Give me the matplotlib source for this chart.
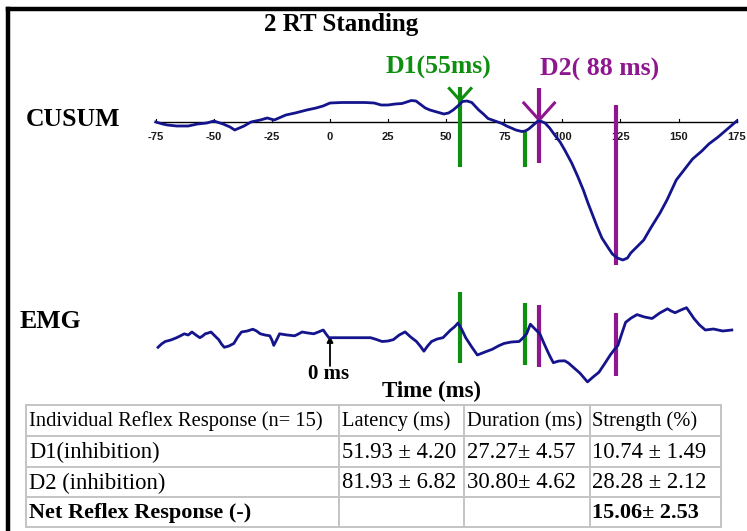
import matplotlib
matplotlib.use("Agg")
import matplotlib.pyplot as plt
from matplotlib.lines import Line2D
from matplotlib.patches import Rectangle

# ---------------- data ----------------
title = "2 RT Standing"

tick_values = [-75, -50, -25, 0, 25, 50, 75, 100, 125, 150, 175]

# CUSUM trace (time in ms, cumulative sum in arbitrary units)
cusum_ms = [-75, -72, -70, -66, -61, -57, -53, -50, -46, -43, -41, -37, -34,
            -30, -27, -24, -21, -19, -15, -10, -6, -3, 0, 5, 10, 15, 19, 22,
            25, 28, 31, 33, 35, 37, 39, 41, 43, 46, 49, 51, 53, 55, 57, 59,
            61, 64, 66, 68, 71, 74, 76, 78, 80, 82.5, 84, 85.5, 87.5, 89.5,
            91, 92.5, 94.5, 96.7, 99, 101, 104, 106.7, 109, 111, 113, 115,
            117, 119.5, 121.5, 123.7, 126, 128, 129.4, 132, 135, 138, 142,
            145, 149, 153, 156, 160, 163, 167, 170, 173, 175]
cusum_val = [0, -2, -3, -4, -4, -2, -1, 1, -2, -5, -8, -4, 0,
             2, 4, 2, 5, 7, 9, 12, 14, 16, 19, 19.5, 19.5, 19.5, 19, 17,
             17, 18, 18.5, 20, 21.5, 21, 17.5, 14, 12, 10, 8, 9, 12, 16, 20.5, 21,
             19.5, 12, 8, 3.5, 1, -1.5, -4, -6, -8, -9.5, -9, -7, -3, 1,
             0.5, -1, -6, -13, -20, -28, -41, -55, -68, -81, -93, -105,
             -116, -125, -132, -136, -138, -136, -131, -125, -118, -106, -91,
             -78, -58, -46, -37, -29, -22, -15, -9, -3, 1]

# EMG trace (time in ms, rectified EMG in arbitrary units)
emg_ms = [-74, -72.5, -70.9, -68.5, -66, -64.5, -62.7, -61, -59.4, -57.7, -56,
          -54.8, -53.7, -52.4, -51.2, -49.5, -47.9, -46.7, -45.5, -43.5, -41.4,
          -39.7, -38.1, -35.6, -33.2, -31.6, -30, -28, -25.9, -25, -24.2, -23,
          -21.7, -18.5, -15.2, -13.6, -12, -9.5, -7, -5, -2.9, -1.7, -0.5,
          5, 10, 17.5, 20, 22.4, 25, 27.3, 29.8, 32.3, 34.7, 37.2, 38.8,
          40.4, 42, 43.7, 46.1, 48.6, 50.2, 51.9, 53.5, 55.1, 56.8, 58.4,
          61, 63.4, 66.7, 69.9, 72.4, 74.8, 78, 81.4, 83, 84.6, 85.4, 86.2,
          88.2, 90.3, 92, 93.6, 94.8, 96.1, 98.5, 101, 102.6, 104.3, 107.5,
          110.8, 113.2, 115.7, 118.1, 120.6, 122.2, 123.9, 125.5, 127.2,
          129.6, 132.1, 135.3, 138.6, 141.9, 145.2, 146.8, 148.5, 151, 153.4,
          155, 156.6, 159, 161.5, 165, 169, 172.9]
emg_val = [-7.3, -4, -1.5, 0, 2.3, 4, 6.2, 5, 8, 5, 2.3,
           4, 6.2, 7, 8, 4, 0.4, -4, -7.3, -6, -3.5,
           3, 8, 9, 10.8, 9, 6.2, 5, 4.2, 0, -5.4, 0,
           6.2, 5, 4.2, 6, 8, 7, 6.2, 8, 10, 6, 2.3,
           2.3, 2.3, 2.3, 0.5, -1.5, -1, 0.4, 5, 8.1, 3, -1.5, -6,
           -11.2, -6, -1.5, 1, 2.3, 6, 10, 13, 17, 10, 2.3,
           -7, -15, -12, -9.2, -6, -3.5, -2, -1.5, 2, 6.2, 11, 15.8,
           11, 6.2, -3, -11.2, -17, -22.7, -21, -20.8, -23, -26.5, -33,
           -41.9, -37, -32.3, -24, -15, -10, -5.4, 6, 17.7,
           22, 25.4, 23, 21.5, 27, 31.2, 29, 27.3, 30, 32.3,
           27, 21.5, 15, 10, 11, 9, 10]

# reflex markers: latency (ms), colour, extent on CUSUM and EMG traces
marker_ms = [56, 84, 90, 123]
marker_color = ["#0f8f0f", "#0f8f0f", "#8e168e", "#8e168e"]
marker_cusum_span = [(35, -45), (-10, -45), (34, -41), (17, -143)]
marker_emg_span = [(48.5, -22.7), (37, -24.6), (35, -26.5), (27.3, -36)]

d1_label = "D1(55ms)"
d2_label = "D2( 88 ms)"

# summary table
table_header = ["Individual Reflex Response (n= 15)", "Latency (ms)",
                "Duration (ms)", "Strength (%)"]
table_rows = [
    ["D1(inhibition)", "51.93 \u00b1 4.20", "27.27\u00b1 4.57", "10.74 \u00b1 1.49"],
    ["D2 (inhibition)", "81.93 \u00b1 6.82", "30.80\u00b1 4.62", "28.28 \u00b1 2.12"],
    ["Net Reflex Response (-)", "", "", "15.06\u00b1 2.53"],
]

# ---------------- figure ----------------
W, H = 747, 531
fig = plt.figure(figsize=(W / 100, H / 100), dpi=100)
fig.patch.set_facecolor("white")

NAVY = "#14148c"
SERIF = "Liberation Serif"
MS0_PX, PX_PER_MS = 330.0, 2.324   # horizontal placement of the time axis


def frac_rect(left_px, top_px, right_px, bottom_px):
    return [left_px / W, 1 - bottom_px / H, (right_px - left_px) / W,
            (bottom_px - top_px) / H]


x_left = MS0_PX - 80 * PX_PER_MS
x_right = MS0_PX + 180 * PX_PER_MS

# CUSUM panel: 1 unit = 1 px, axis line at y = 122 px
c_top, c_bot, c_axis = 78, 272, 122
ax_c = fig.add_axes(frac_rect(x_left, c_top, x_right, c_bot))
ax_c.set_xlim(-80, 180)
ax_c.set_ylim(-(c_bot - c_axis), c_axis - c_top)
ax_c.axis("off")
ax_c.axhline(0, xmin=(-75 + 80) / 260, xmax=(175 + 80) / 260, color="black",
             lw=1.0, zorder=2)
for t in tick_values:
    ax_c.plot([t, t], [0, 3], color="black", lw=0.8, zorder=2)
    ax_c.text(t, -14.5, str(t), ha="center", va="center", fontsize=8,
              fontweight="bold", color="#1a1a1a", family="Liberation Sans")
ax_c.plot(cusum_ms, cusum_val, color=NAVY, lw=2.0, zorder=4,
          solid_joinstyle="round")

for ms, col, (top, bot) in zip(marker_ms, marker_color, marker_cusum_span):
    ax_c.plot([ms, ms], [bot, top], color=col, lw=3.0, zorder=3,
              solid_capstyle="butt")

# arrowheads pointing at the D1 and D2 onsets on the CUSUM trace
for ms, col, tip, arm in [(marker_ms[0], marker_color[0], 21.5, 12),
                          (marker_ms[2], marker_color[2], 2.0, 17)]:
    dx = arm / PX_PER_MS * 0.9
    ax_c.plot([ms - dx, ms, ms + dx], [tip + arm, tip, tip + arm], color=col,
              lw=2.2, zorder=3, solid_joinstyle="miter")

# EMG panel: 1 unit = 1 px, reference level at y = 340 px
e_top, e_bot, e_ref = 282, 392, 340
ax_e = fig.add_axes(frac_rect(x_left, e_top, x_right, e_bot))
ax_e.set_xlim(-80, 180)
ax_e.set_ylim(-(e_bot - e_ref), e_ref - e_top)
ax_e.axis("off")
ax_e.plot(emg_ms, emg_val, color=NAVY, lw=2.0, zorder=4,
          solid_joinstyle="round")
for ms, col, (top, bot) in zip(marker_ms, marker_color, marker_emg_span):
    ax_e.plot([ms, ms], [bot, top], color=col, lw=3.0, zorder=3,
              solid_capstyle="butt")
ax_e.annotate("", xy=(0, 4), xytext=(0, -26),
              arrowprops=dict(arrowstyle="-|>", color="black", lw=1.3,
                              mutation_scale=9, shrinkA=0, shrinkB=0))

# overlay in pixel coordinates for frame, labels and table
ov = fig.add_axes([0, 0, 1, 1], zorder=5)
ov.set_xlim(0, W)
ov.set_ylim(H, 0)
ov.axis("off")
ov.patch.set_alpha(0)

# outer frame (top and left edges)
ov.add_line(Line2D([8, W], [9, 9], color="black", lw=3.2))
ov.add_line(Line2D([8, 8], [9, H], color="black", lw=3.2))

ov.text(341, 25, title, ha="center", va="center", fontsize=18,
        fontweight="bold", family=SERIF)
ov.text(438, 67, d1_label, ha="center", va="center", fontsize=18.5,
        fontweight="bold", family=SERIF, color=marker_color[0])
ov.text(600, 69, d2_label, ha="center", va="center", fontsize=18.5,
        fontweight="bold", family=SERIF, color=marker_color[2])
ov.text(73, 119, "CUSUM", ha="center", va="center", fontsize=18.5,
        fontweight="bold", family=SERIF)
ov.text(50, 322, "EMG", ha="center", va="center", fontsize=18.5,
        fontweight="bold", family=SERIF)
ov.text(329, 374, "0 ms", ha="center", va="center", fontsize=15,
        fontweight="bold", family=SERIF)
ov.text(432, 397.5, "Time (ms)", ha="center", va="baseline", fontsize=16.5,
        fontweight="bold", family=SERIF, zorder=1)

# summary table
col_edges = [26, 338.5, 464, 589.5, 721]
row_edges = [405, 436, 466.7, 497.3, 526.7]
ov.add_patch(Rectangle((col_edges[0], row_edges[0]),
                       col_edges[-1] - col_edges[0],
                       row_edges[-1] - row_edges[0],
                       facecolor="white", edgecolor="none", zorder=2))
grid_kw = dict(color="#c4c4c4", lw=1.4, zorder=3)
for y in row_edges:
    ov.add_line(Line2D([col_edges[0], col_edges[-1]], [y, y], **grid_kw))
for x in col_edges:
    ov.add_line(Line2D([x, x], [row_edges[0], row_edges[-1]], **grid_kw))

all_rows = [table_header] + table_rows
for r, row in enumerate(all_rows):
    yc = (row_edges[r] + row_edges[r + 1]) / 2 + 1
    bold = r == len(all_rows) - 1
    for c, txt in enumerate(row):
        if not txt:
            continue
        if r == 0:
            size = 14.8
        elif bold:
            size = 16
        else:
            size = 16.3
        ov.text(col_edges[c] + 3, yc, txt, ha="left", va="center",
                fontsize=size, family=SERIF,
                fontweight="bold" if bold else "normal", zorder=4)

fig.savefig("out.png", dpi=100, facecolor="white")
